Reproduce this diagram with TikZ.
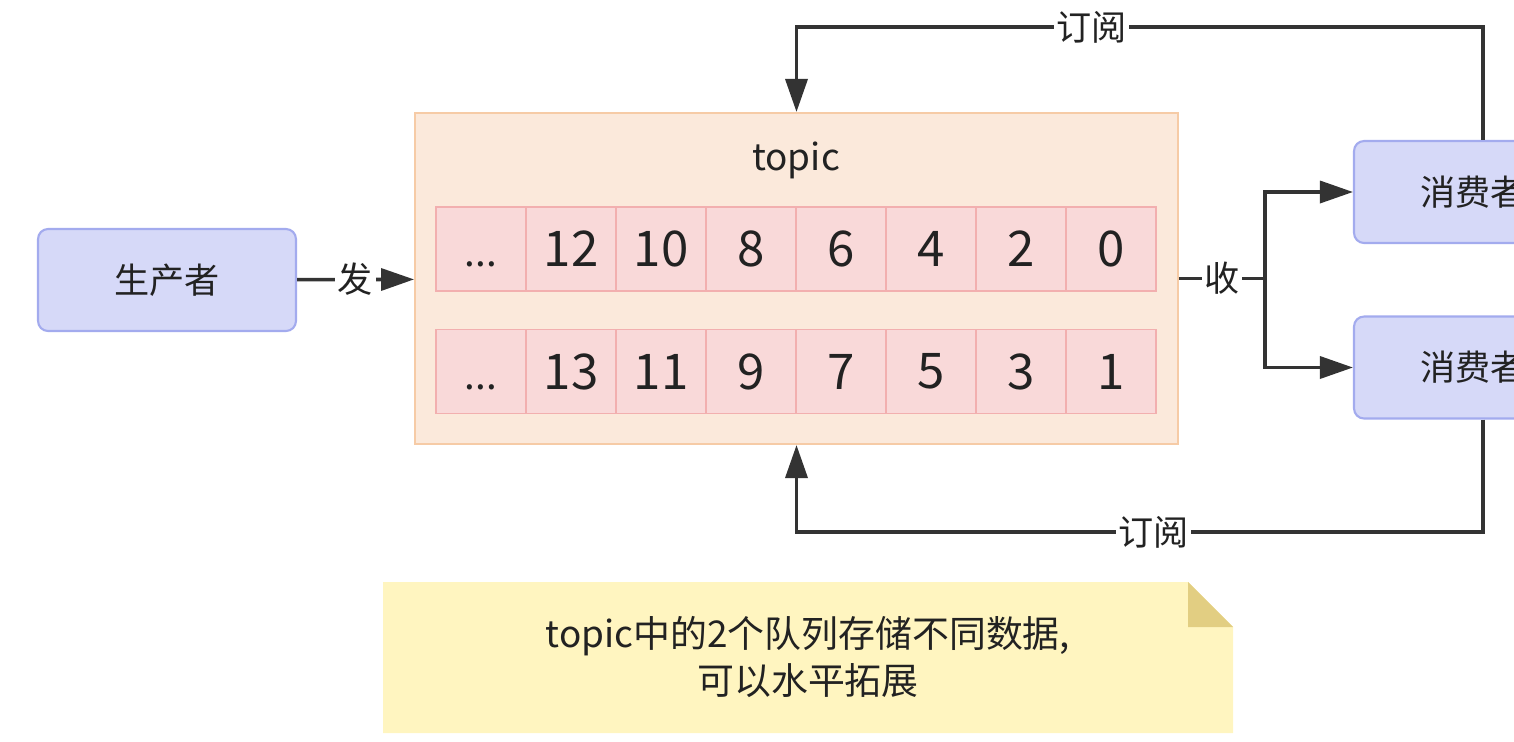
\documentclass[tikz,border=0pt]{standalone}
\usepackage{fontspec}
\setmainfont{Noto Sans CJK SC}
\usetikzlibrary{arrows.meta,positioning}
\definecolor{boxfill}{HTML}{D6D9F8}
\definecolor{boxline}{HTML}{A3ABEE}
\definecolor{topicfill}{HTML}{FBE9DB}
\definecolor{topicline}{HTML}{F6CBA6}
\definecolor{cellfill}{HTML}{F9D9D9}
\definecolor{cellline}{HTML}{F2AFAF}
\definecolor{notefill}{HTML}{FFF5C0}
\definecolor{foldfill}{HTML}{E2CE82}
\definecolor{linecol}{HTML}{333333}
\definecolor{textcol}{HTML}{222222}
\newcommand{\celldots}{\vphantom{0}{\fontsize{22}{24}\selectfont{.}{.}{.}}}

\begin{document}
\begin{tikzpicture}[x=0.02cm,y=-0.02cm,
  every node/.style={text=textcol},
  box/.style={draw=boxline,fill=boxfill,line width=1.2pt,rounded corners=0.2cm,
    minimum width=5.16cm,minimum height=2.04cm,font=\fontsize{20}{24}\selectfont},
  cell/.style={draw=cellline,fill=cellfill,line width=1pt,minimum width=1.8cm,
    minimum height=1.68cm,font=\fontsize{28}{30}\selectfont},
  lbl/.style={fill=white,inner sep=1.5pt,font=\fontsize{20}{24}\selectfont},
  line/.style={draw=linecol,line width=2pt},
  arr/.style={line,-{Triangle[length=0.66cm,width=0.44cm]}}]
  \useasboundingbox (0,0) rectangle (1514,741);
  \clip (0,0) rectangle (1514,741);
  \node[box] (prod) at (167,280) {生产者};
  \node[draw=topicline,fill=topicfill,line width=1.2pt,minimum width=15.26cm,
    minimum height=6.62cm] (topic) at (796.5,278.5) {};
  \node[font=\fontsize{21}{24}\selectfont] (tname) at (796,160) {topic};
  \node[cell] (a0) at (481,249) {\celldots};
  \foreach \n [count=\k] in {12,10,8,6,4,2,0}
    \node[cell] (a\k) at (481+90*\k,249) {\n};
  \node[cell] (b0) at (481,371.5) {\celldots};
  \foreach \n [count=\k] in {13,11,9,7,5,3,1}
    \node[cell] (b\k) at (481+90*\k,371.5) {\n};
  \node[box,text width=2.52cm,align=left] (c1) at (1483,192) {消费者};
  \node[box,text width=2.52cm,align=left] (c2) at (1483,367.5) {消费者};
  \coordinate (j) at (1265,278.5);
  \coordinate (s1) at (1483,27);
  \coordinate (s2) at (1483,532);
  \draw[arr] (prod) -- node[lbl] {发} (topic);
  \draw[line] (topic.east) -- node[lbl] {收} (j);
  \draw[arr] (j) |- (c1);
  \draw[arr] (j) |- (c2);
  \draw[arr] (c1.north) -- (s1) -| node[lbl,pos=0.285] {订阅} (topic.north);
  \draw[arr] (c2.south) -- (s2) -| node[lbl,pos=0.24] {订阅} (topic.south);
  \fill[notefill] (383,582) -- (1188,582) -- (1233,627) -- (1233,733)
    -- (383,733) -- cycle;
  \fill[foldfill] (1188,582) -- (1188,627) -- (1233,627) -- cycle;
  \node[align=center,font=\fontsize{21}{27}\selectfont] (note) at (808,657)
    {topic中的2个队列存储不同数据,\\可以水平拓展};
\end{tikzpicture}
\end{document}
